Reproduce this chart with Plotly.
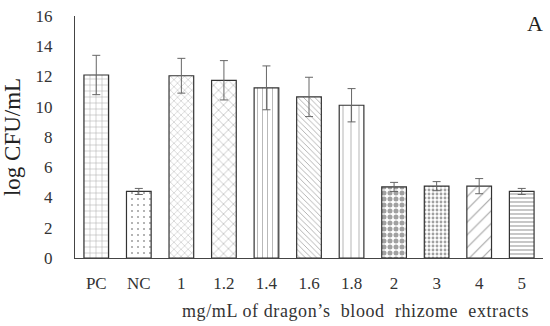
import plotly.graph_objects as go

categories = ["PC", "NC", "1", "1.2", "1.4", "1.6", "1.8", "2", "3", "4", "5"]
values = [12.1, 4.4, 12.05, 11.75, 11.25, 10.65, 10.1, 4.7, 4.75, 4.75, 4.4]
errors = [1.3, 0.2, 1.15, 1.3, 1.45, 1.3, 1.1, 0.3, 0.3, 0.5, 0.2]
patterns = ["+", ".", "x", "x", "|", "\\", "|", ".", ".", "/", "-"]
pattern_sizes = [6, 6, 5, 7, 5, 4, 8, 6, 4, 9, 4]
solidity = [0.15, 0.1, 0.15, 0.15, 0.15, 0.2, 0.1, 0.55, 0.4, 0.12, 0.3]
y_ticks = [0, 2, 4, 6, 8, 10, 12, 14, 16]

font = "Liberation Serif"

fig = go.Figure(go.Bar(
    x=categories, y=values,
    error_y=dict(type="data", array=errors, visible=True, color="#666666", thickness=1, width=4),
    marker=dict(
        color="white",
        line=dict(color="#333333", width=1.2),
        pattern=dict(shape=patterns, size=pattern_sizes, solidity=solidity,
                     fgcolor="#444444", bgcolor="white", fillmode="overlay"),
    ),
))

plot_w = 550 - 68 - 7
plot_h = 326 - 12 - 68

fig.update_layout(
    width=550, height=326,
    margin=dict(l=68, r=7, t=12, b=68),
    paper_bgcolor="white", plot_bgcolor="white",
    bargap=0.42, showlegend=False,
    font=dict(family=font, color="#333333"),
    xaxis=dict(type="category", showline=True, linecolor="#444444", linewidth=1,
               ticks="", tickfont=dict(size=17, family=font, color="#333333"),
               ticklabelstandoff=10, showgrid=False),
    yaxis=dict(range=[0, 16], tickvals=y_ticks, showline=True, linecolor="#444444",
               linewidth=1, ticks="", showgrid=False, zeroline=False,
               tickfont=dict(size=17, family=font, color="#333333"),
               ticklabelstandoff=18,
               title=dict(text="log CFU/mL", font=dict(size=23, family=font, color="#222222"), standoff=12)),
    annotations=[
        dict(text="<span style='letter-spacing:0.6px'>mg/mL of dragon\u2019s\u00a0\u00a0blood\u00a0\u00a0rhizome\u00a0\u00a0extracts</span>",
             x=(353 - 68) / plot_w, y=-(312 - 258) / plot_h, xref="paper", yref="paper",
             yanchor="middle", showarrow=False,
             font=dict(size=18, family=font, color="#333333")),
        dict(text="A", x=(535 - 68) / plot_w, y=1 + (12 - 20) / plot_h, xref="paper", yref="paper",
             showarrow=False, xanchor="center", yanchor="middle",
             font=dict(size=22, family=font, color="#222222")),
    ],
)

fig.write_html("out.html", config={"displayModeBar": False},
               post_script="document.body.style.margin='0';")
